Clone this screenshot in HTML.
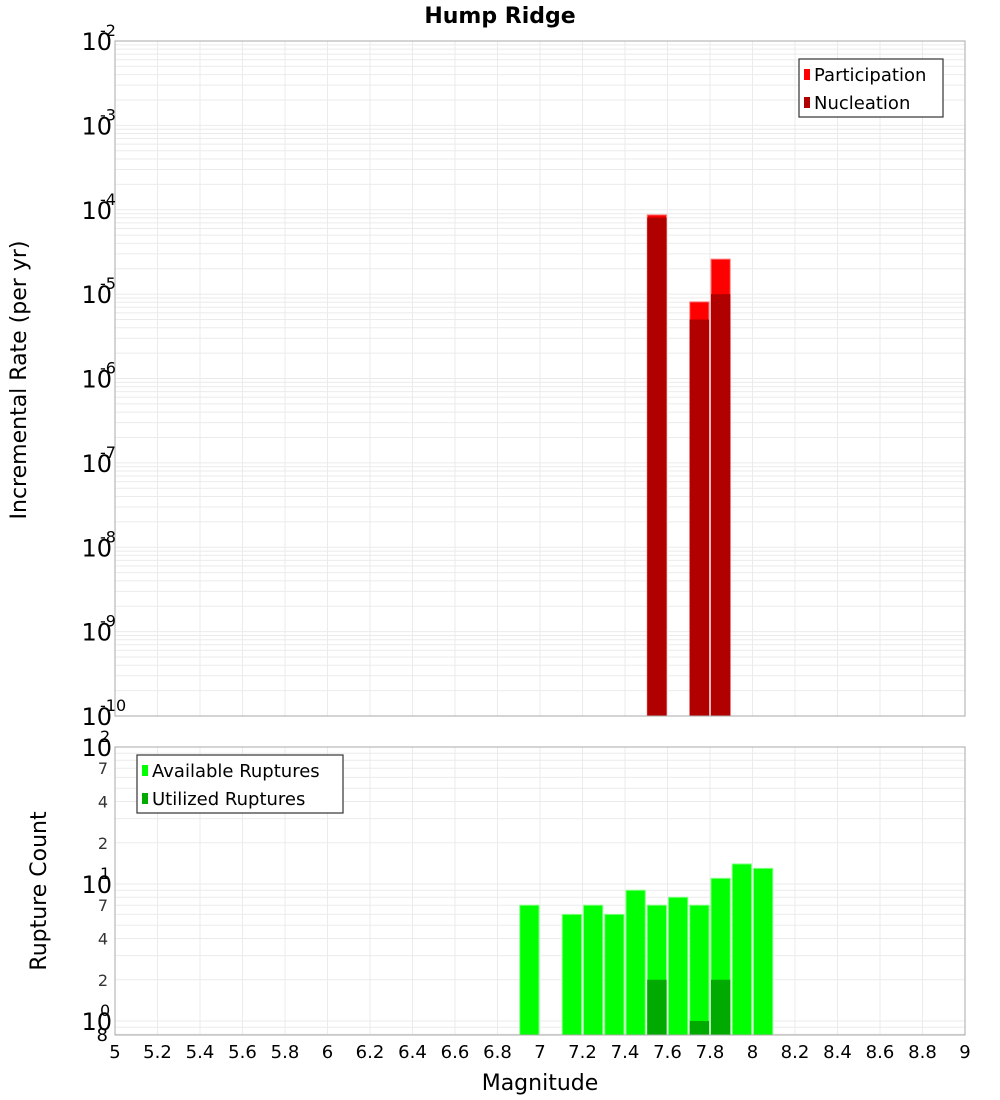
<!DOCTYPE html>
<html><head><meta charset="utf-8"><style>
body{margin:0;background:#fff;}
svg{display:block;font-family:"DejaVu Sans","Liberation Sans",sans-serif;}
</style></head><body>
<svg id="c" width="1000" height="1100" xmlns="http://www.w3.org/2000/svg">
<text x="500" y="23" text-anchor="middle" font-size="22" font-weight="bold">Hump Ridge</text>
</svg>
<script>
const mags=[7.55,7.75,7.85];
const participation=[8.7e-5,8.1e-6,2.6e-5];
const nucleation=[8.1e-5,5.0e-6,1.0e-5];
const ruptMags=[6.95,7.15,7.25,7.35,7.45,7.55,7.65,7.75,7.85,7.95,8.05];
const available=[7,6,7,6,9,7,8,7,11,14,13];
const utilMags=[7.55,7.75,7.85];
const utilized=[2,1,2];
const xTicks=[5,5.2,5.4,5.6,5.8,6,6.2,6.4,6.6,6.8,7,7.2,7.4,7.6,7.8,8,8.2,8.4,8.6,8.8,9];
const topExps=[-2,-3,-4,-5,-6,-7,-8,-9,-10];
const botExps=[2,1,0];
const botMinor=[7,4,2];

const NS="http://www.w3.org/2000/svg";
const svg=document.getElementById('c');
function el(t,a,p){const e=document.createElementNS(NS,t);for(const k in a)e.setAttribute(k,a[k]);(p||svg).appendChild(e);return e;}
const L=115,R=965;
const x=m=>L+(m-5)/4*(R-L);
const T0=41,T1=716;
const yT=v=>T0+(-2-Math.log10(v))/8*(T1-T0);
const B0=747,B1=1035;
const yB=v=>B0+(2-Math.log10(v))*137;

// grids
function grid(y0,y1,yf,lo,hi,g){
  for(let e=lo;e<hi;e++)for(let k=1;k<10;k++){const v=k*Math.pow(10,e);const yy=yf(v);if(yy<y0-0.5||yy>y1+0.5)continue;
    const l=el('line',{x1:L,x2:R,y1:yy,y2:yy,stroke:'#ebebeb','stroke-width':1},g);
    }
  xTicks.forEach(t=>{const l=el('line',{x1:x(t),x2:x(t),y1:y0,y2:y1,stroke:'#ebebeb'},g);
    });
}
const gt=el('g',{});
grid(T0,T1,yT,-10,-1,gt);
const gb=el('g',{});
grid(B0,B1,yB,-1,2,gb);

// top bars
const w=(R-L)/40-2;
mags.forEach((m,i)=>{
  const r=el('rect',{x:x(m)-w/2,y:yT(participation[i]),width:w,height:T1-yT(participation[i]),fill:'#ff0000',stroke:'#ff8080','stroke-width':1});
  
  const n=el('rect',{x:x(m)-w/2,y:yT(nucleation[i]),width:w,height:T1-yT(nucleation[i]),fill:'#b00000'});
  
});
ruptMags.forEach((m,i)=>{
  const r=el('rect',{x:x(m)-w/2,y:yB(available[i]),width:w,height:B1-yB(available[i]),fill:'#00ff00',stroke:'#80ff80','stroke-width':1});
  
});
utilMags.forEach((m,i)=>{
  const r=el('rect',{x:x(m)-w/2,y:yB(utilized[i]),width:w,height:B1-yB(utilized[i]),fill:'#00aa00'});
  
});

// frames
[[T0,T1,'top-plot-frame'],[B0,B1,'bottom-plot-frame']].forEach(f=>{
  const r=el('rect',{x:L,y:f[0],width:R-L,height:f[1]-f[0],fill:'none',stroke:'#aaaaaa'});
  
});

function pow10(yy,e,nm){
  const t=el('text',{x:112,y:yy+9,'text-anchor':'end','font-size':24});
  
  t.textContent='10';
  const s=el('text',{x:100,y:yy-5,'font-size':16});
  
  s.textContent=String(e);
}
topExps.forEach(e=>pow10(yT(Math.pow(10,e)),e,'top-y-tick'));
botExps.forEach(e=>pow10(yB(Math.pow(10,e)),e,'bottom-y-tick'));
[1,0].forEach(e=>botMinor.forEach(k=>{const t=el('text',{x:108,y:yB(k*Math.pow(10,e))+6,'text-anchor':'end','font-size':16,fill:'#333'});
  t.textContent=String(k);}));
{const t=el('text',{x:108,y:1041,'text-anchor':'end','font-size':18});t.textContent='8';}

xTicks.forEach(v=>{const t=el('text',{x:x(v),y:1058,'text-anchor':'middle','font-size':18});
  t.textContent=String(v);});

function lbl(txt,a,nm){const t=el('text',a);t.textContent=txt;}
lbl('Magnitude',{x:540,y:1090,'text-anchor':'middle','font-size':22},'x-axis-title');
lbl('Incremental Rate (per yr)',{x:0,y:0,'text-anchor':'middle','font-size':22,transform:'translate(26,380) rotate(-90)'},'top-y-axis-title');
lbl('Rupture Count',{x:0,y:0,'text-anchor':'middle','font-size':22,transform:'translate(46,891) rotate(-90)'},'bottom-y-axis-title');

// legends
function legend(x0,y0,wd,items,nm){
  const g=el('g',{});
  el('rect',{x:x0,y:y0,width:wd,height:58,fill:'#fff',stroke:'#333','stroke-width':1.2},g);
  items.forEach((it,i)=>{
    const s=el('rect',{x:x0+5,y:y0+10+i*28,width:6,height:11,fill:it[1]},g);
    
    const t=el('text',{x:x0+15,y:y0+22+i*28,'font-size':18},g);
    t.textContent=it[0];
  });
}
legend(799,59,144,[['Participation','#ff0000'],['Nucleation','#b00000']],'top-legend');
legend(137,755,206,[['Available Ruptures','#00ff00'],['Utilized Ruptures','#00aa00']],'bottom-legend');
</script>
</body></html>
